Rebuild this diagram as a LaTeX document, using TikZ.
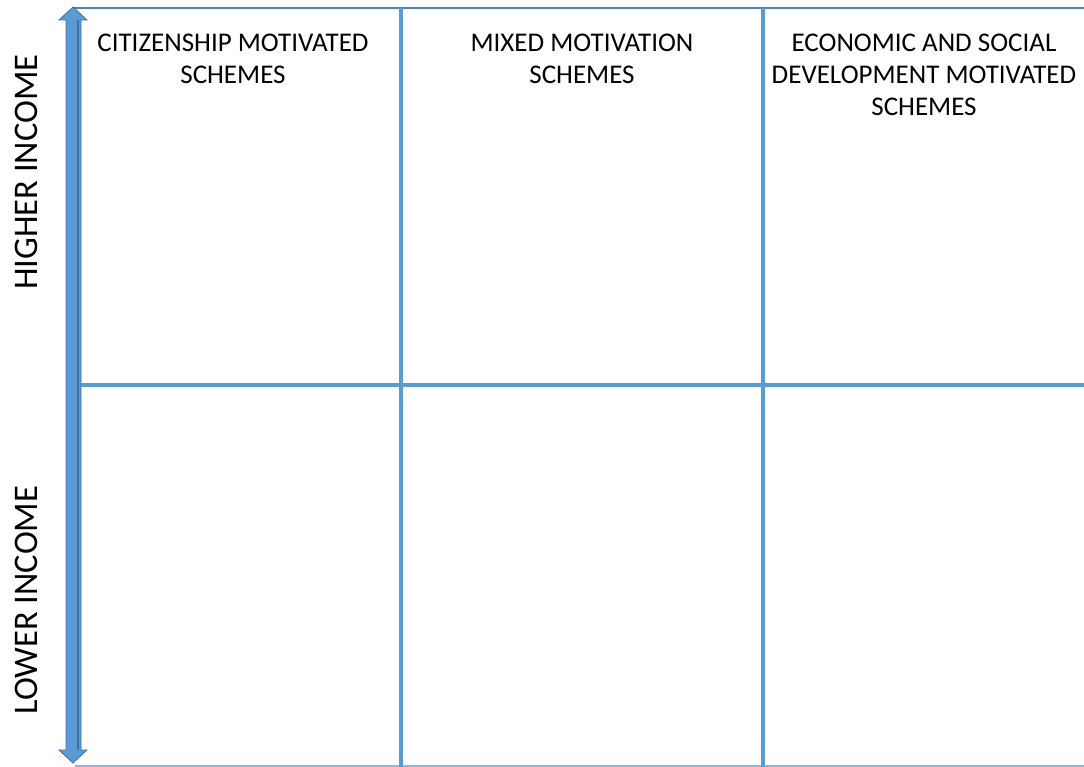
\documentclass[tikz,border=0pt]{standalone}
\usepackage{fontspec}
\setmainfont{Carlito}
\definecolor{gridblue}{RGB}{91,155,213}
\definecolor{edgeblue}{RGB}{65,113,156}
\definecolor{topblue}{RGB}{79,129,189}
\definecolor{botblue}{RGB}{142,180,227}
\begin{document}
\begin{tikzpicture}[x=1pt,y=-1pt,
  grid/.style={draw=gridblue,line width=4.5pt},
  lbl/.style={font=\fontsize{27}{32}\selectfont,align=center,inner sep=0pt,anchor=base},
  side/.style={font=\fontsize{34.5}{36}\selectfont,inner sep=0pt,rotate=90}]
\useasboundingbox (0,0) rectangle (1084,767);
% frame lines
\draw[topblue,line width=1.6pt] (74,8) -- (1084,8);
\draw[botblue,line width=1.6pt] (75,766) -- (1084,766);
% grid
\draw[grid] (401,8) -- (401,767);
\draw[grid] (763,8) -- (763,767);
\draw[grid] (67,385) -- (1084,385);
% left double arrow
\draw[fill=gridblue,draw=edgeblue,line width=0.8pt]
  (73,7) -- (87,20) -- (81,20) -- (81,750) -- (87,750) -- (73,763)
  -- (59,750) -- (66,750) -- (66,20) -- (59,20) -- cycle;
\draw[edgeblue,line width=1.6pt] (78,20) -- (78,750);
% texts
\node[lbl] (c1) at (233,84) {CITIZENSHIP MOTIVATED\\SCHEMES};
\node[lbl] (c2) at (582,84) {MIXED MOTIVATION\\SCHEMES};
\node[lbl] (c3) at (924,116) {ECONOMIC AND SOCIAL\\DEVELOPMENT MOTIVATED\\SCHEMES};
\node[side,anchor=base] (hi) at (37,172) {HIGHER INCOME};
\node[side,anchor=base] (lo) at (37,600) {LOWER INCOME};
\end{tikzpicture}
\end{document}
